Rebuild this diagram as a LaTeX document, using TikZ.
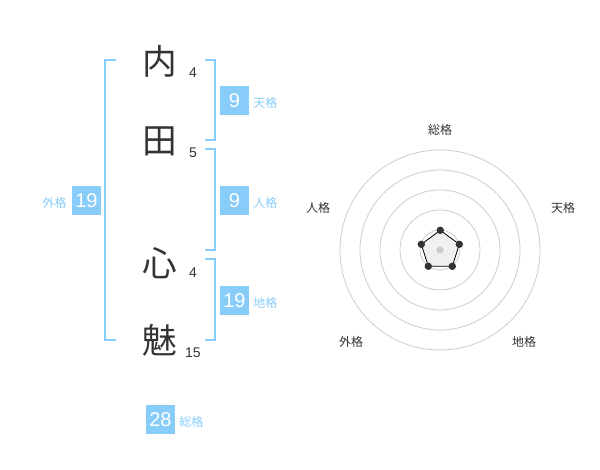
\documentclass[tikz,border=0pt]{standalone}
\usepackage{fontspec}
\setmainfont{Noto Sans CJK JP}
\newfontfamily\digitfont{Liberation Sans}
\definecolor{kakublue}{RGB}{136,204,250}
\definecolor{inkgray}{RGB}{51,51,51}
\definecolor{ringgray}{RGB}{204,204,204}
\definecolor{padgray}{RGB}{240,240,240}
\tikzset{
    kanji/.style = {text = inkgray, font = \fontsize{26}{26}\selectfont, inner sep = 0pt},
    stroke/.style = {text = inkgray, font = \digitfont\fontsize{10.5}{11}\selectfont, inner sep = 0pt},
    kakubox/.style = {fill = kakublue, text = white, minimum width = 21.5pt, minimum height = 21.5pt, inner sep = 0pt, font = \digitfont\fontsize{15}{15}\selectfont},
    kakulabel/.style = {text = kakublue, font = \fontsize{9}{9}\selectfont, inner sep = 0pt},
    bracket/.style = {kakublue, line width = 1.5pt},
    axislabel/.style = {text = inkgray, font = \fontsize{9}{9}\selectfont, inner sep = 0pt}
}
\begin{document}
\begin{tikzpicture}[x = 0.75pt, y = -0.75pt]
        \useasboundingbox (0, 0) rectangle (600, 470);
        % name column
        \node[kanji] (c1) at (160, 61) {内};
        \node[kanji] (c2) at (160, 141) {田};
        \node[kanji] (c3) at (160, 263) {心};
        \node[kanji] (c4) at (160, 340) {魅};
        \node[stroke] (s1) at (193, 73) {4};
        \node[stroke] (s2) at (193, 153) {5};
        \node[stroke] (s3) at (193, 273) {4};
        \node[stroke] (s4) at (193, 353) {15};
        % brackets
        \draw[bracket] (116, 60) -- (105, 60) -- (105, 340) -- (116, 340);
        \draw[bracket] (205, 60) -- (215, 60) -- (215, 140) -- (205, 140);
        \draw[bracket] (205, 149) -- (215, 149) -- (215, 250) -- (205, 250);
        \draw[bracket] (205, 259) -- (215, 259) -- (215, 340) -- (205, 340);
        % kaku values
        \node[kakubox] (ten) at (234.5, 100.5) {9};
        \node[kakulabel, anchor = west] (tenl) at (253, 103) {天格};
        \node[kakubox] (jin) at (234.5, 200.5) {9};
        \node[kakulabel, anchor = west] (jinl) at (253, 203) {人格};
        \node[kakubox] (chi) at (234.5, 300.5) {19};
        \node[kakulabel, anchor = west] (chil) at (253, 303) {地格};
        \node[kakubox] (gai) at (86.5, 200.5) {19};
        \node[kakulabel, anchor = east] (gail) at (67, 203) {外格};
        \node[kakubox] (sou) at (160.5, 419.5) {28};
        \node[kakulabel, anchor = west] (soul) at (179, 422) {総格};
        % radar
        \foreach \r in {20, 40, 60, 80, 100}
            \draw[ringgray, line width = 0.6pt] (440, 250) circle (\r);
        \draw[black, line width = 0.6pt, fill = padgray]
            (440.3, 230.3) -- (459.3, 244.3) -- (452.3, 266.3) -- (428.3, 266.3) -- (421.3, 244.3) -- cycle;
        \fill[ringgray] (440, 250) circle (3.6);
        \foreach \p in {(440.3, 230.3), (459.3, 244.3), (452.3, 266.3), (428.3, 266.3), (421.3, 244.3)}
            \fill[inkgray] \p circle (3.7);
        \node[axislabel] (ax1) at (440, 130) {総格};
        \node[axislabel] (ax2) at (563, 208) {天格};
        \node[axislabel] (ax3) at (524, 342) {地格};
        \node[axislabel] (ax4) at (351, 342) {外格};
        \node[axislabel] (ax5) at (318, 208) {人格};
    \end{tikzpicture}
\end{document}
